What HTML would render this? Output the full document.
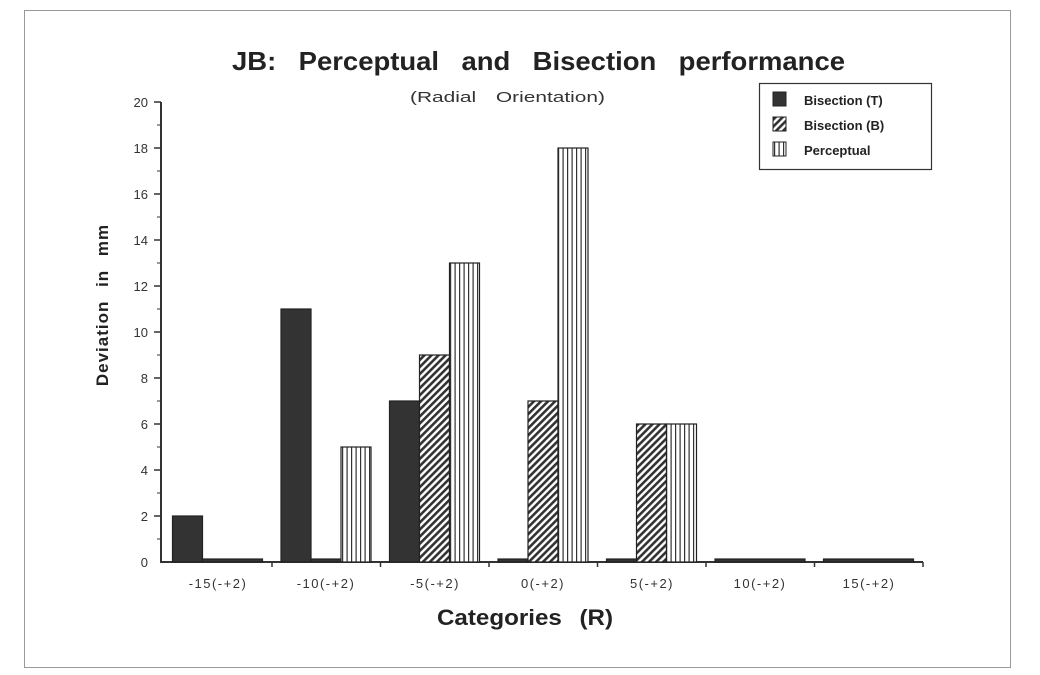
<!DOCTYPE html>
<html><head><style>body{margin:0;background:#fff}svg{display:block}</style></head><body>
<svg width="1040" height="675" viewBox="0 0 1040 675" xmlns="http://www.w3.org/2000/svg" font-family="Liberation Sans, sans-serif">
<defs>
<pattern id="hb" patternUnits="userSpaceOnUse" width="5" height="5" patternTransform="rotate(45)"><rect width="5" height="5" fill="#fff"/><rect width="2.6" height="5" fill="#333"/></pattern>
<pattern id="vp" patternUnits="userSpaceOnUse" width="4.5" height="10"><rect width="4.5" height="10" fill="#fff"/><rect width="1.2" height="10" fill="#333"/></pattern>
</defs>
<rect x="0" y="0" width="1040" height="675" fill="#fff"/>
<rect x="24.5" y="10.5" width="986" height="657" fill="none" stroke="#999" stroke-width="1"/>
<text x="232" y="70" textLength="613" lengthAdjust="spacingAndGlyphs" font-size="26" font-weight="bold" fill="#222" word-spacing="14">JB: Perceptual and Bisection performance</text>
<text x="410" y="102" textLength="195" lengthAdjust="spacingAndGlyphs" font-size="15" fill="#333" word-spacing="10">(Radial Orientation)</text>
<g stroke="#333" stroke-width="2">
<line x1="161" y1="102" x2="161" y2="563"/>
<line x1="161" y1="562" x2="923" y2="562"/>
</g>
<g stroke="#333" stroke-width="1.5">
<line x1="154" y1="102" x2="161" y2="102"/><line x1="154" y1="148" x2="161" y2="148"/><line x1="154" y1="194" x2="161" y2="194"/><line x1="154" y1="240" x2="161" y2="240"/><line x1="154" y1="286" x2="161" y2="286"/><line x1="154" y1="332" x2="161" y2="332"/><line x1="154" y1="378" x2="161" y2="378"/><line x1="154" y1="424" x2="161" y2="424"/><line x1="154" y1="470" x2="161" y2="470"/><line x1="154" y1="516" x2="161" y2="516"/>
<line x1="272" y1="562" x2="272" y2="567"/><line x1="380.5" y1="562" x2="380.5" y2="567"/><line x1="489" y1="562" x2="489" y2="567"/><line x1="597.5" y1="562" x2="597.5" y2="567"/><line x1="706" y1="562" x2="706" y2="567"/><line x1="814.5" y1="562" x2="814.5" y2="567"/><line x1="923" y1="562" x2="923" y2="567"/>
</g>
<g stroke="#333" stroke-width="1">
<line x1="157" y1="125" x2="161" y2="125"/><line x1="157" y1="171" x2="161" y2="171"/><line x1="157" y1="217" x2="161" y2="217"/><line x1="157" y1="263" x2="161" y2="263"/><line x1="157" y1="309" x2="161" y2="309"/><line x1="157" y1="355" x2="161" y2="355"/><line x1="157" y1="401" x2="161" y2="401"/><line x1="157" y1="447" x2="161" y2="447"/><line x1="157" y1="493" x2="161" y2="493"/><line x1="157" y1="539" x2="161" y2="539"/>
</g>
<g font-size="13" fill="#333" text-anchor="end">
<text x="148" y="107">20</text><text x="148" y="153">18</text><text x="148" y="199">16</text><text x="148" y="245">14</text><text x="148" y="291">12</text><text x="148" y="337">10</text><text x="148" y="383">8</text><text x="148" y="429">6</text><text x="148" y="475">4</text><text x="148" y="521">2</text><text x="148" y="567">0</text>
</g>
<g font-size="13" fill="#333" text-anchor="middle" letter-spacing="1.5">
<text x="218" y="588">-15(-+2)</text><text x="326" y="588">-10(-+2)</text><text x="435" y="588">-5(-+2)</text><text x="543" y="588">0(-+2)</text><text x="652" y="588">5(-+2)</text><text x="760" y="588">10(-+2)</text><text x="869" y="588">15(-+2)</text>
</g>
<text x="437" y="625" textLength="176" lengthAdjust="spacingAndGlyphs" font-size="22" font-weight="bold" fill="#222" word-spacing="10">Categories (R)</text>
<text transform="translate(108,305) rotate(-90)" text-anchor="middle" font-size="17" font-weight="bold" fill="#222" letter-spacing="1" word-spacing="8">Deviation in mm</text>
<g stroke="#222" stroke-width="1.2">
<rect x="172.5" y="516" width="30" height="46" fill="#333"/>
<rect x="202.5" y="559" width="60" height="3" fill="#333"/>
<rect x="281" y="309" width="30" height="253" fill="#333"/>
<rect x="311" y="559" width="30" height="3" fill="#333"/>
<rect x="341" y="447" width="30" height="115" fill="url(#vp)"/>
<rect x="389.5" y="401" width="30" height="161" fill="#333"/>
<rect x="419.5" y="355" width="30" height="207" fill="url(#hb)"/>
<rect x="449.5" y="263" width="30" height="299" fill="url(#vp)"/>
<rect x="498" y="559" width="30" height="3" fill="#333"/>
<rect x="528" y="401" width="30" height="161" fill="url(#hb)"/>
<rect x="558" y="148" width="30" height="414" fill="url(#vp)"/>
<rect x="606.5" y="559" width="30" height="3" fill="#333"/>
<rect x="636.5" y="424" width="30" height="138" fill="url(#hb)"/>
<rect x="666.5" y="424" width="30" height="138" fill="url(#vp)"/>
<rect x="715" y="559" width="90" height="3" fill="#333"/>
<rect x="823.5" y="559" width="90" height="3" fill="#333"/>
</g>
<rect x="759.5" y="83.5" width="172" height="86" fill="#fff" stroke="#333" stroke-width="1.2"/>
<rect x="773" y="92" width="13" height="14" fill="#333" stroke="#222"/>
<rect x="773" y="117" width="13" height="14" fill="url(#hb)" stroke="#222"/>
<rect x="773" y="142" width="13" height="14" fill="url(#vp)" stroke="#222"/>
<g font-size="13" fill="#222" font-weight="bold">
<text x="804" y="105">Bisection (T)</text>
<text x="804" y="130">Bisection (B)</text>
<text x="804" y="155">Perceptual</text>
</g>
</svg>
</body></html>
